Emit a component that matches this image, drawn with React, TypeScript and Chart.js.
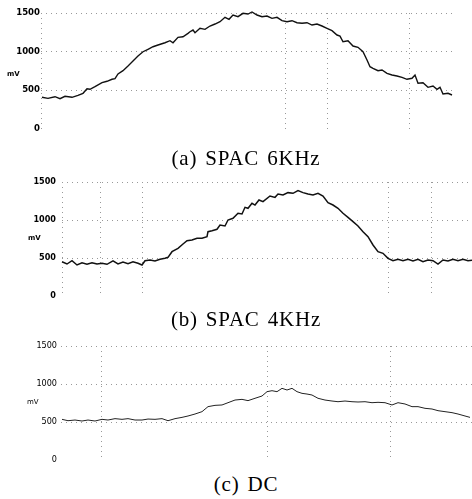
import React, { useEffect, useRef } from "react";
import { Chart, registerables } from "chart.js";

Chart.register(...registerables);

// ---------- data ----------
const yTickValues = [0, 500, 1000, 1500];
const yUnit = "mV";
const captions = ["(a) SPAC 6KHz", "(b) SPAC 4KHz", "(c) DC"];

// (a) SPAC 6KHz : sample times (arbitrary units) and mV
const timeA = [1, 7, 14, 19, 24, 31, 37, 42, 46, 49, 54, 61, 66, 71, 74, 77, 82, 87, 92, 97, 102, 107, 112, 117, 124, 129, 132, 137, 142, 147, 149, 152, 154, 159, 164, 169, 174, 179, 184, 188, 192, 197, 202, 207, 211, 216, 221, 226, 231, 236, 241, 246, 251, 256, 261, 266, 271, 276, 281, 286, 291, 296, 299, 302, 307, 312, 317, 322, 326, 329, 332, 337, 341, 346, 351, 356, 361, 366, 371, 374, 377, 382, 387, 392, 396, 399, 402, 407, 411];
const mvA = [405, 392, 413, 387, 418, 405, 431, 457, 517, 509, 543, 595, 613, 639, 647, 708, 751, 812, 877, 942, 997, 1029, 1062, 1084, 1114, 1140, 1114, 1184, 1192, 1236, 1257, 1279, 1244, 1301, 1288, 1331, 1357, 1387, 1444, 1418, 1474, 1452, 1496, 1487, 1513, 1474, 1452, 1461, 1431, 1444, 1400, 1387, 1400, 1374, 1366, 1374, 1344, 1357, 1331, 1301, 1270, 1214, 1200, 1127, 1140, 1071, 1055, 997, 890, 803, 782, 751, 760, 717, 695, 682, 665, 639, 652, 695, 587, 595, 535, 552, 509, 535, 448, 457, 435];
const gridTimesA = [0, 244, 286, 368];

// (b) SPAC 4KHz
const timeB = [0, 5, 10, 15, 20, 25, 30, 35, 40, 45, 51, 56, 61, 66, 71, 76, 80, 83, 88, 93, 98, 103, 106, 110, 116, 121, 125, 130, 135, 140, 145, 146, 150, 155, 158, 163, 166, 171, 176, 180, 183, 186, 190, 193, 197, 201, 208, 213, 216, 221, 226, 231, 236, 241, 246, 251, 256, 261, 266, 271, 276, 281, 286, 291, 296, 301, 306, 311, 316, 321, 326, 331, 336, 341, 346, 351, 356, 361, 366, 371, 376, 381, 386, 391, 396, 401, 406, 410];
const mvB = [451, 421, 464, 408, 438, 417, 438, 421, 430, 417, 461, 421, 447, 425, 451, 430, 408, 464, 474, 461, 483, 496, 509, 583, 627, 684, 728, 737, 759, 759, 780, 846, 859, 878, 934, 921, 1000, 1022, 1088, 1079, 1167, 1154, 1220, 1197, 1263, 1241, 1316, 1298, 1342, 1329, 1360, 1351, 1386, 1360, 1342, 1329, 1351, 1316, 1228, 1197, 1154, 1088, 1035, 978, 921, 846, 780, 671, 583, 562, 496, 464, 483, 464, 483, 461, 483, 451, 474, 464, 421, 474, 461, 483, 464, 483, 464, 470];
const gridTimesB = [0, 38, 80, 326, 369];

// (c) DC
const timeC = [1, 7, 14, 21, 27, 34, 41, 47, 54, 61, 67, 74, 81, 87, 94, 101, 107, 114, 121, 127, 134, 141, 147, 154, 161, 167, 174, 181, 187, 194, 201, 206, 211, 216, 221, 226, 231, 236, 241, 246, 251, 257, 264, 271, 277, 284, 291, 297, 304, 311, 317, 324, 331, 337, 344, 351, 357, 364, 371, 377, 384, 391, 397, 404, 409];
const mvC = [535, 517, 526, 513, 526, 513, 535, 526, 544, 535, 544, 526, 526, 539, 535, 544, 517, 544, 561, 579, 605, 636, 702, 719, 724, 754, 789, 798, 781, 812, 842, 899, 912, 899, 943, 921, 943, 899, 877, 868, 855, 812, 789, 776, 767, 776, 767, 763, 767, 754, 759, 754, 724, 754, 737, 702, 702, 680, 671, 649, 636, 623, 605, 579, 561];
const gridTimesC = [40, 206, 329];

// ---------- component ----------
type PanelProps = {
  top: number;
  height: number;
  axisWidth: number;
  padTop: number;
  padBottom: number;
  padRight: number;
  xMax: number;
  times: number[];
  values: number[];
  gridTimes: number[];
  tickFont: { family: string; size: number; weight: string };
  tickPad: number;
  lineWidth: number;
  lineColor: string;
};

function Panel(p: PanelProps) {
  const ref = useRef<HTMLCanvasElement | null>(null);
  useEffect(() => {
    if (!ref.current) return;
    const gridColor = "#999999";
    const chart = new Chart(ref.current, {
      type: "line",
      data: {
        datasets: [
          {
            data: p.times.map((t, i) => ({ x: t, y: p.values[i] })),
            borderColor: p.lineColor,
            borderWidth: p.lineWidth,
            pointRadius: 0,
            tension: 0,
            fill: false,
            clip: false as any,
          },
        ],
      },
      options: {
        animation: false,
        responsive: false,
        maintainAspectRatio: false,
        devicePixelRatio: 1,
        layout: { padding: { top: p.padTop, bottom: p.padBottom, left: 0, right: p.padRight } },
        plugins: { legend: { display: false }, tooltip: { enabled: false } },
        scales: {
          x: {
            type: "linear",
            min: 0,
            max: p.xMax,
            afterBuildTicks: (s: any) => {
              s.ticks = p.gridTimes.map((v) => ({ value: v }));
            },
            ticks: { display: false },
            grid: { color: gridColor, lineWidth: 1, drawTicks: false },
            border: { display: false, dash: [1, 4] },
          },
          y: {
            type: "linear",
            min: 0,
            max: 1500,
            afterBuildTicks: (s: any) => {
              s.ticks = yTickValues.map((v) => ({ value: v }));
            },
            afterFit: (s: any) => {
              s.width = p.axisWidth;
            },
            ticks: {
              color: "#000",
              font: p.tickFont as any,
              padding: p.tickPad,
              callback: (v: any) => String(v),
            },
            grid: {
              color: (c: any) => (c.tick && c.tick.value === 0 ? "rgba(0,0,0,0)" : gridColor),
              lineWidth: 1,
              drawTicks: false,
            },
            border: { display: false, dash: [1, 4] },
          },
        },
      },
    });
    return () => chart.destroy();
  }, []);
  return (
    <canvas
      ref={ref}
      width={472}
      height={p.height}
      style={{ position: "absolute", left: 0, top: p.top, width: 472, height: p.height }}
    />
  );
}

const narrow = "'Liberation Sans Narrow', 'DejaVu Sans Condensed', 'Liberation Sans', sans-serif";

export default function App() {
  const captionStyle = (top: number): React.CSSProperties => ({
    position: "absolute",
    left: 246,
    top,
    transform: "translateX(-50%)",
    whiteSpace: "nowrap",
    fontFamily: "'Liberation Serif', 'DejaVu Serif', serif",
    fontSize: 21,
    lineHeight: "21px",
    letterSpacing: 0.8,
    wordSpacing: 2,
    color: "#000",
  });
  const unitStyle = (left: number, top: number, weight: string): React.CSSProperties => ({
    position: "absolute",
    left,
    top,
    fontFamily: "'DejaVu Sans', sans-serif",
    fontSize: 7,
    lineHeight: "7px",
    fontWeight: weight as any,
    color: "#000",
  });
  return (
    <div
      style={{
        position: "fixed",
        left: 0,
        top: 0,
        width: 472,
        height: 499,
        background: "#fff",
        overflow: "hidden",
      }}
    >
      <Panel
        top={0}
        height={140}
        axisWidth={41}
        padTop={13}
        padBottom={11.5}
        padRight={20}
        xMax={411}
        times={timeA}
        values={mvA}
        gridTimes={gridTimesA}
        tickFont={{ family: narrow, size: 9.5, weight: "bold" }}
        tickPad={1}
        lineWidth={1.4}
        lineColor="#111"
      />
      <Panel
        top={165}
        height={145}
        axisWidth={62}
        padTop={17}
        padBottom={14}
        padRight={0}
        xMax={410}
        times={timeB}
        values={mvB}
        gridTimes={gridTimesB}
        tickFont={{ family: narrow, size: 9, weight: "bold" }}
        tickPad={6}
        lineWidth={1.5}
        lineColor="#111"
      />
      <Panel
        top={330}
        height={140}
        axisWidth={61}
        padTop={16}
        padBottom={10}
        padRight={0}
        xMax={411}
        times={timeC}
        values={mvC}
        gridTimes={gridTimesC}
        tickFont={{ family: narrow, size: 9, weight: "normal" }}
        tickPad={4}
        lineWidth={1}
        lineColor="#222"
      />
      <span style={unitStyle(7, 71, "bold")}>{yUnit}</span>
      <span style={unitStyle(28, 235, "bold")}>{yUnit}</span>
      <span style={unitStyle(27, 399, "normal")}>{yUnit}</span>
      <div style={captionStyle(148)}>{captions[0]}</div>
      <div style={captionStyle(309)}>{captions[1]}</div>
      <div style={captionStyle(474)}>{captions[2]}</div>
    </div>
  );
}
